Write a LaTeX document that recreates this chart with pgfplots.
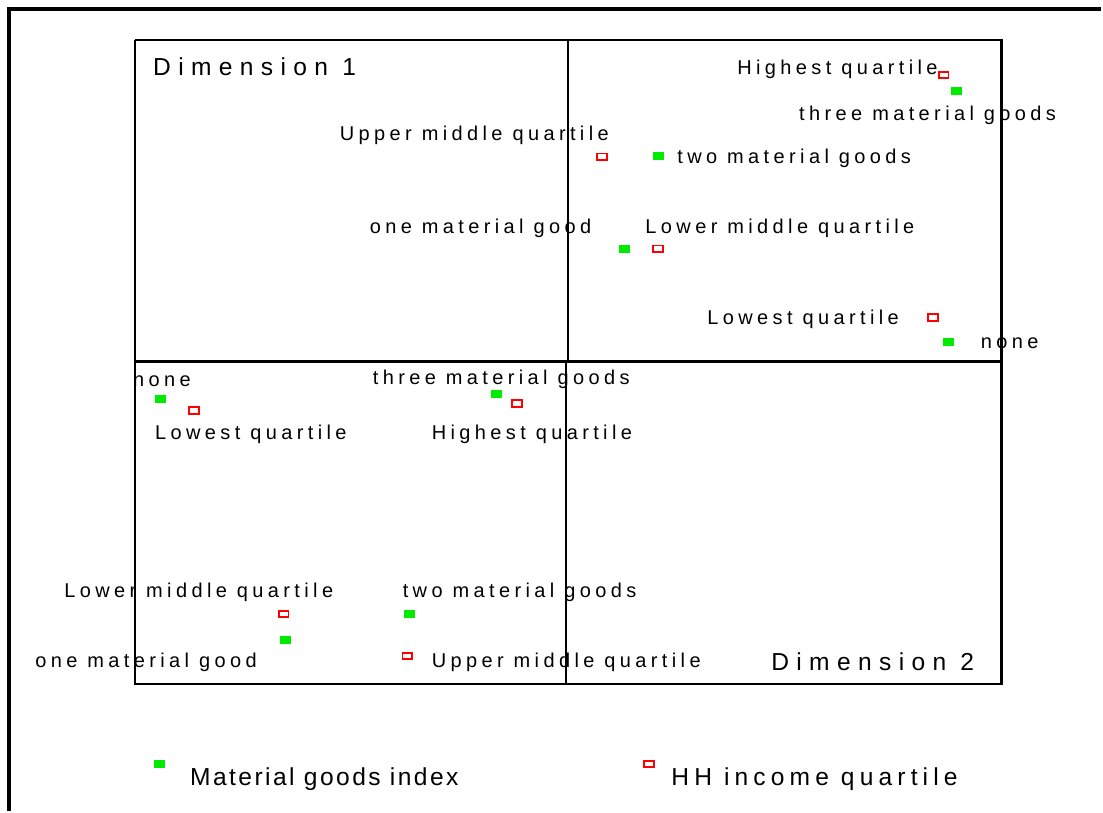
\documentclass[border=0pt]{standalone}
\usepackage{fontspec}
\setmainfont{Liberation Sans}
\newfontfamily\lblfont[LetterSpace=22]{Liberation Sans}
\newfontfamily\dimfont[LetterSpace=30]{Liberation Sans}
\newfontfamily\legfonta[LetterSpace=10]{Liberation Sans}
\newfontfamily\legfontb[LetterSpace=21]{Liberation Sans}
\usepackage{pgfplots}
\pgfplotsset{compat=1.18}
\definecolor{mgreen}{RGB}{0,235,0}
\definecolor{mred}{RGB}{255,0,0}
\tikzset{
    lbl/.style={anchor=base west, inner sep=0pt, font=\lblfont\fontsize{10}{12}\selectfont},
    dimlbl/.style={anchor=base west, inner sep=0pt, font=\dimfont\fontsize{12.3}{14}\selectfont},
    leglbl/.style={anchor=base west, inner sep=0pt, font=\fontsize{12.3}{14}\selectfont},
}

\begin{document}
\begin{tikzpicture}
\begin{axis}[
    width=551.5pt, height=406pt, scale only axis,
    xmin=0, xmax=1103, ymin=0, ymax=812, y dir=reverse,
    hide axis, clip=false,
]
% page extent
\addplot[draw=none, forget plot] coordinates {(0,0) (1103,0) (1103,812) (0,812)};
% frame and panels
\addplot[black, line width=1.6pt] coordinates {(9,812) (9,9) (1103,9)};
\addplot[black, line width=1.1pt] coordinates {(135,40) (1003,40) (1003,685) (135,685) (135,40)};
\addplot[black, line width=1.1pt] coordinates {(135,362) (1003,362)};
\addplot[black, line width=1.1pt] coordinates {(569,40) (569,362)};
\addplot[black, line width=1.1pt] coordinates {(567,362) (567,685)};

% material goods index
\addplot[only marks, mark=square*, mark size=1.75pt, mark options={xscale=1.4, fill=mgreen, draw=mgreen}] coordinates {
(958,91) (659,156) (625,249) (950,342)
(161,399) (497,394) (410,615) (286,641)
(160,765)
};
% HH income quartile
\addplot[only marks, mark=square*, mark size=1.6pt, mark options={xscale=1.55, fill=white, draw=mred, line width=0.9pt}] coordinates {
(945,75) (603,157) (659,249) (934,318)
(194,411) (518,404) (284,615) (408,657)
(650,765)
};

% labels, dimension 1
\node[dimlbl] at (axis cs:153,76) {Dimension 1};
\node[lbl] at (axis cs:738,75) {Highest quartile};
\node[lbl] at (axis cs:800,121) {three material goods};
\node[lbl] at (axis cs:340,141) {Upper middle quartile};
\node[lbl] at (axis cs:678,164) {two material goods};
\node[lbl] at (axis cs:370,234) {one material good};
\node[lbl] at (axis cs:646,234) {Lower middle quartile};
\node[lbl] at (axis cs:708,325) {Lowest quartile};
\node[lbl] at (axis cs:982,349) {none};
% labels, dimension 2
\node[lbl] at (axis cs:133,387) {none};
\node[lbl] at (axis cs:155,440) {Lowest quartile};
\node[lbl] at (axis cs:373,385) {three material goods};
\node[lbl] at (axis cs:432,440) {Highest quartile};
\node[lbl] at (axis cs:64,598) {Lower middle quartile};
\node[lbl] at (axis cs:403,598) {two material goods};
\node[lbl] at (axis cs:35,668) {one material good};
\node[lbl] at (axis cs:432,668) {Upper middle quartile};
\node[dimlbl] at (axis cs:772,671) {Dimension 2};
% legend
\node[leglbl] at (axis cs:190,787) {\legfonta Material goods index};
\node[leglbl] at (axis cs:672,787) {\legfontb HH income quartile};
\end{axis}
\end{tikzpicture}
\end{document}
